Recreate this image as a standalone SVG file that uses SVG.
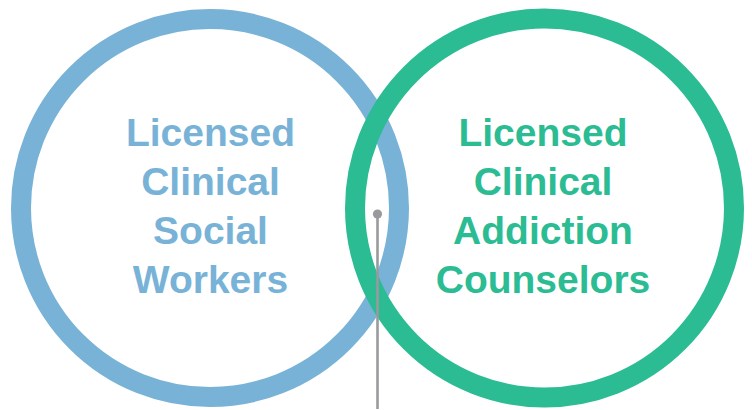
<svg xmlns="http://www.w3.org/2000/svg" width="752" height="410" viewBox="0 0 752 410">
  <style>
    .ring { fill: none; stroke-width: 20; }
    .lbl { font-family: "Liberation Sans", Arial, sans-serif; font-weight: bold; font-size: 39px; text-anchor: middle; }
    .blue { fill: #78b3d7; }
    .green { fill: #2bbc93; }
  </style>
  <rect width="752" height="410" fill="#ffffff"/>
  <g id="node-social-workers">
    <circle class="ring" cx="210" cy="208" r="189" stroke="#78b3d7"/>
    <text class="lbl blue" x="210.5" y="146">Licensed</text>
    <text class="lbl blue" x="210.5" y="195">Clinical</text>
    <text class="lbl blue" x="210.5" y="244">Social</text>
    <text class="lbl blue" x="210.5" y="293">Workers</text>
  </g>
  <g id="node-addiction-counselors">
    <circle class="ring" cx="544.5" cy="208" r="189.5" stroke="#2bbc93"/>
    <text class="lbl green" x="543" y="146">Licensed</text>
    <text class="lbl green" x="543" y="195">Clinical</text>
    <text class="lbl green" x="543" y="244">Addiction</text>
    <text class="lbl green" x="543" y="293">Counselors</text>
  </g>
  <g id="connectors">
    <line x1="377.5" y1="214" x2="377.5" y2="409" stroke="#9a9a9e" stroke-width="2.6"/>
    <circle cx="377.5" cy="214" r="4.6" fill="#9a9a9e"/>
  </g>
</svg>
